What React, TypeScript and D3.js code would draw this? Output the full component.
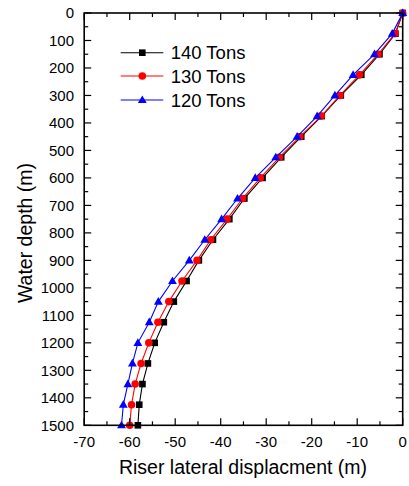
import React from "react";
import * as d3 from "d3";

// Water depth (m) at each computed node
const depths = [0, 75, 150, 225, 300, 375, 450, 525, 600, 675, 750, 825, 900, 975, 1050, 1125, 1200, 1275, 1350, 1425, 1500];

// Riser lateral displacement (m) per top tension
const tons140 = [0, -1.6, -5.1, -9.1, -13.6, -17.8, -22.3, -26.7, -30.8, -34.8, -38.1, -41.7, -44.8, -47.5, -50.3, -52.5, -54.5, -56.0, -57.2, -57.9, -58.2];
const tons130 = [0, -1.7, -5.4, -9.5, -13.8, -17.9, -22.6, -27.1, -31.3, -35.2, -38.6, -42.2, -45.2, -48.5, -51.4, -53.8, -55.8, -57.5, -58.8, -59.6, -60.0];
const tons120 = [0, -2.3, -6.2, -10.9, -14.9, -18.8, -23.2, -27.9, -32.4, -36.3, -39.8, -43.5, -46.9, -50.6, -53.7, -55.7, -58.2, -59.4, -60.4, -61.4, -61.8];

const seriesNames = ["140 Tons", "130 Tons", "120 Tons"];
const seriesColors = ["#000000", "#ff0000", "#0000ff"];
const seriesMarkers = ["square", "circle", "triangle"];

const xTicks = [-70, -60, -50, -40, -30, -20, -10, 0];
const yTicks = [0, 100, 200, 300, 400, 500, 600, 700, 800, 900, 1000, 1100, 1200, 1300, 1400, 1500];

const W = 409;
const H = 486;
const left = 84.2;
const right = 402.7;
const top = 13;
const bottom = 425.3;
const FONT = "'Liberation Sans', Arial, sans-serif";

function Marker({ kind, cx, cy, color }: { kind: string; cx: number; cy: number; color: string }) {
  if (kind === "square") {
    return <rect x={cx - 3.3} y={cy - 3.3} width={6.6} height={6.6} fill={color} />;
  }
  if (kind === "circle") {
    return <circle cx={cx} cy={cy} r={3.8} fill={color} />;
  }
  const sym = d3.symbol().type(d3.symbolTriangle).size(34)();
  return <path d={sym || ""} transform={`translate(${cx},${cy + 0.5})`} fill={color} />;
}

export default function App() {
  const x = d3.scaleLinear().domain([-70, 0]).range([left, right]);
  const y = d3.scaleLinear().domain([0, 1500]).range([top, bottom]);
  const series = [tons140, tons130, tons120];

  const line = d3
    .line<[number, number]>()
    .x((d) => x(d[0]))
    .y((d) => y(d[1]));

  const xMinor = d3.range(-70, 0.01, 5);
  const yMinor = d3.range(0, 1500.01, 50);

  const legendY = [52.7, 76, 100];

  return (
    <svg
      width={W}
      height={H}
      style={{ position: "absolute", left: 0, top: 0, background: "#fff" }}
      fontFamily={FONT}
    >
      <rect x={0} y={0} width={W} height={H} fill="#fff" />

      {/* series lines and markers */}
      {series.map((vals, si) => {
        const pts: [number, number][] = vals.map((v, i) => [v, depths[i]]);
        return (
          <g key={si}>
            <path d={line(pts) || ""} fill="none" stroke={seriesColors[si]} strokeWidth={1.1} />
            {pts.map((p, i) => (
              <Marker key={i} kind={seriesMarkers[si]} cx={x(p[0])} cy={y(p[1])} color={seriesColors[si]} />
            ))}
          </g>
        );
      })}

      {/* frame */}
      <rect x={left} y={top} width={right - left} height={bottom - top} fill="none" stroke="#000" strokeWidth={1.6} />

      {/* x ticks (bottom and top, inward) */}
      {xMinor.map((v) => {
        const major = v % 10 === 0;
        const len = major ? 7 : 4;
        return (
          <g key={`xt${v}`} stroke="#000" strokeWidth={1.2}>
            <line x1={x(v)} x2={x(v)} y1={bottom} y2={bottom - len} />
            <line x1={x(v)} x2={x(v)} y1={top} y2={top + len} />
          </g>
        );
      })}
      {/* y ticks (left and right, inward) */}
      {yMinor.map((v) => {
        const major = v % 100 === 0;
        const len = major ? 7 : 4;
        return (
          <g key={`yt${v}`} stroke="#000" strokeWidth={1.2}>
            <line x1={left} x2={left + len} y1={y(v)} y2={y(v)} />
            <line x1={right} x2={right - len} y1={y(v)} y2={y(v)} />
          </g>
        );
      })}

      {/* tick labels */}
      {xTicks.map((v) => (
        <text key={`xl${v}`} x={x(v)} y={447} fontSize={15} textAnchor="middle" fill="#000">
          {v}
        </text>
      ))}
      {yTicks.map((v) => (
        <text key={`yl${v}`} x={74} y={y(v) + 5.3} fontSize={15} textAnchor="end" fill="#000">
          {v}
        </text>
      ))}

      {/* axis titles */}
      <text x={243} y={474} fontSize={19.5} textAnchor="middle" fill="#000">
        Riser lateral displacment (m)
      </text>
      <text
        transform="translate(32,233) rotate(-90)"
        fontSize={19.5}
        textAnchor="middle"
        fill="#000"
      >
        Water depth (m)
      </text>

      {/* legend */}
      {seriesNames.map((name, i) => (
        <g key={name}>
          <line x1={120.7} x2={163.3} y1={legendY[i]} y2={legendY[i]} stroke={seriesColors[i]} strokeWidth={1.1} />
          <Marker kind={seriesMarkers[i]} cx={142.3} cy={legendY[i]} color={seriesColors[i]} />
          <text x={170.7} y={legendY[i] + 6.5} fontSize={18.5} fill="#000">
            {name}
          </text>
        </g>
      ))}
    </svg>
  );
}
